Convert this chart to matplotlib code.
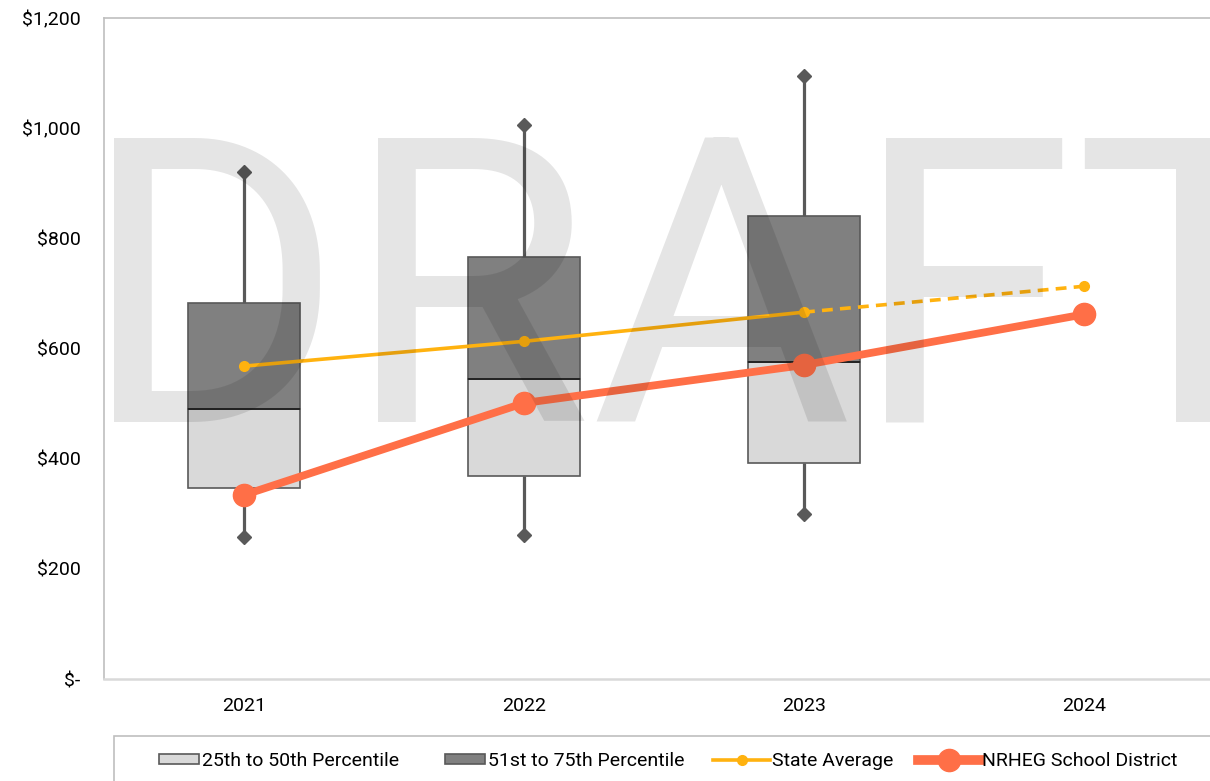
import matplotlib
matplotlib.use("Agg")
import matplotlib.pyplot as plt
from matplotlib.patches import Patch, Rectangle
from matplotlib.lines import Line2D
from matplotlib.ticker import FuncFormatter
from matplotlib.textpath import TextPath
from matplotlib.font_manager import FontProperties

years = ["2021", "2022", "2023", "2024"]
box_years = ["2021", "2022", "2023"]
p_min = [258, 261, 299]
p25 = [347, 368, 392]
p50 = [490, 544, 575]
p75 = [682, 766, 840]
p_max = [920, 1005, 1094]
state_avg = [568, 613, 666, 713]
nrheg = [334, 501, 570, 662]
yticks = [0, 200, 400, 600, 800, 1000, 1200]
labels = ["25th to 50th Percentile", "51st to 75th Percentile", "State Average", "NRHEG School District"]

plt.rcParams['font.family'] = ['Roboto', 'DejaVu Sans']

W, H = 1210, 781
fig = plt.figure(figsize=(W / 100, H / 100), dpi=100)
ax = fig.add_axes([104 / W, 1 - 679 / H, 1120 / W, 661 / H])

xb = list(range(len(box_years)))
xall = list(range(len(years)))

# whiskers
ax.vlines(xb, p_min, p25, color='#595959', lw=2.3, zorder=1)
ax.vlines(xb, p75, p_max, color='#595959', lw=2.3, zorder=1)
ax.plot(xb, p_min, 'D', color='#595959', ms=7, zorder=2, linestyle='none')
ax.plot(xb, p_max, 'D', color='#595959', ms=7, zorder=2, linestyle='none')

# boxes
lo_h = [m - q for m, q in zip(p50, p25)]
hi_h = [q - m for q, m in zip(p75, p50)]
ax.bar(xb, lo_h, bottom=p25, width=0.4, color='#d9d9d9', edgecolor='#595959', lw=1.2, zorder=3)
ax.bar(xb, hi_h, bottom=p50, width=0.4, color='#808080', edgecolor='#595959', lw=1.2, zorder=3)
ax.hlines(p50, [x - 0.2 for x in xb], [x + 0.2 for x in xb], color='#1a1a1a', lw=1.2, zorder=4)

# state average
sa_col = '#FFB20F'
ax.plot(xall[:3], state_avg[:3], color=sa_col, lw=2.6, zorder=5)
ax.plot(xall[2:], state_avg[2:], color=sa_col, lw=2.6, ls=(0, (3, 2)), zorder=5)
ax.plot(xall, state_avg, 'o', color=sa_col, ms=7, zorder=6)

# district
nr_col = '#FF6F47'
ax.plot(xall, nrheg, color=nr_col, lw=5.6, marker='o', ms=16, zorder=7)

ax.set_xlim(-0.5, 3.5)
ax.set_ylim(0, 1200)
ax.set_xticks(xall)
ax.set_xticklabels(years)
ax.set_yticks(yticks)
ax.yaxis.set_major_formatter(FuncFormatter(lambda v, p: "$-" if v == 0 else "${:,.0f}".format(v)))
ax.tick_params(axis='both', length=0, labelsize=14, colors='#000000')
ax.tick_params(axis='y', pad=17)
ax.tick_params(axis='x', pad=13)
for s in ['left', 'top']:
    ax.spines[s].set_color('#bfbfbf')
    ax.spines[s].set_linewidth(1.2)
ax.spines['bottom'].set_color('#d9d9d9')
ax.spines['bottom'].set_linewidth(1.8)
ax.spines['right'].set_visible(False)

# watermark, letter by letter (ink-left positions in pixels)
wm_size = 288
fp = FontProperties(family='Roboto')
wm_letters = ["D", "R", "A", "F", "T"]
wm_left = [114, 378, None, 886, 1084]
wm_center = [None, None, 721, None, None]
for ch, lx, cx in zip(wm_letters, wm_left, wm_center):
    ext = TextPath((0, 0), ch, size=wm_size, prop=fp).get_extents()
    x0 = ext.x0 * 100 / 72
    wpx = ext.width * 100 / 72
    if lx is None:
        lx = cx - wpx / 2
    fig.text((lx - x0) / W, 1 - 422 / H, ch, fontsize=wm_size,
             color='black', alpha=0.1, ha='left', va='baseline', zorder=20)

# legend frame
fig.patches.append(Rectangle((114 / W, 1 - 790 / H), 1110 / W, 54 / H,
                             transform=fig.transFigure, facecolor='white',
                             edgecolor='#bfbfbf', lw=1.2, zorder=1))
handles = [
    Patch(facecolor='#d9d9d9', edgecolor='#595959', lw=1.2),
    Patch(facecolor='#808080', edgecolor='#595959', lw=1.2),
    Line2D([], [], color=sa_col, lw=2.6, marker='o', ms=7),
    Line2D([], [], color=nr_col, lw=7, marker='o', ms=16),
]
x_starts = [159, 445, 713, 918]
h_lens = [40, 40, 57, 62]
fs = 14
fpx = fs * 100 / 72
for h, lab, xs, hl in zip(handles, labels, x_starts, h_lens):
    fig.legend([h], [lab], loc='center left', bbox_to_anchor=(xs / W, 1 - 761 / H),
               frameon=False, fontsize=fs, handlelength=hl / fpx, handleheight=0.4,
               handletextpad=2.5 / fpx, borderpad=0, borderaxespad=0)

fig.savefig("out.png", dpi=100)
